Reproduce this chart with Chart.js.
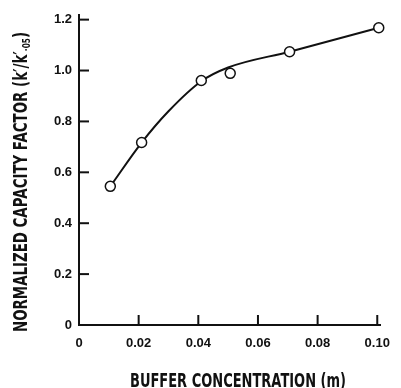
<!DOCTYPE html>
<html>
<head>
<meta charset="utf-8">
<script src="https://cdn.jsdelivr.net/npm/chart.js@4"></script>
<style>
  html, body { margin: 0; padding: 0; background: #fff; }
  #wrap { width: 401px; height: 388px; }
</style>
</head>
<body>
<div id="wrap"><canvas id="myChart"></canvas></div>
<script>
// measured points
const concentration = [0.0105, 0.021, 0.041, 0.0507, 0.0706, 0.1005];
const capacityFactor = [0.545, 0.717, 0.961, 0.989, 1.074, 1.168];

// hand-drawn smooth curve
const curveX = [0.0105, 0.021, 0.030, 0.041, 0.050, 0.0706, 0.1005];
const curveY = [0.545, 0.717, 0.840, 0.958, 1.012, 1.074, 1.168];

const xTicks = [0, 0.02, 0.04, 0.06, 0.08, 0.10];
const xTickLabels = ['0', '0.02', '0.04', '0.06', '0.08', '0.10'];
const yTicks = [0, 0.2, 0.4, 0.6, 0.8, 1.0, 1.2];
const yTickLabels = ['0', '0.2', '0.4', '0.6', '0.8', '1.0', '1.2'];

const xTitle = 'BUFFER CONCENTRATION (m)';
const yTitleMain = "NORMALIZED CAPACITY FACTOR (k\u2032/k\u2032";
const yTitleSub = '\u00b705';
const yTitleEnd = ')';

const INK = '#111';
const tickFont = { family: '"Liberation Sans", Arial, sans-serif', size: 13, weight: 'bold' };
const titleFont = 'bold 20px "DejaVu Sans", sans-serif';
const subFont = 'bold 11px "DejaVu Sans", sans-serif';

// inward tick marks + the condensed axis titles
const paperAxes = {
    id: 'paperAxes',
    afterDraw(chart) {
        const ctx = chart.ctx;
        const { left, bottom } = chart.chartArea;
        const xs = chart.scales.x;
        const ys = chart.scales.y;
        ctx.save();
        ctx.strokeStyle = INK;
        ctx.lineWidth = 2;
        yTicks.forEach(v => {
            if (v === 0) return;
            const py = ys.getPixelForValue(v);
            ctx.beginPath();
            ctx.moveTo(left, py);
            ctx.lineTo(left + 10, py);
            ctx.stroke();
        });
        xTicks.forEach(v => {
            if (v === 0) return;
            const px = xs.getPixelForValue(v);
            ctx.beginPath();
            ctx.moveTo(px, bottom);
            ctx.lineTo(px, bottom - 10);
            ctx.stroke();
        });

        ctx.fillStyle = INK;
        ctx.textBaseline = 'alphabetic';
        ctx.textAlign = 'left';

        // x title
        ctx.font = titleFont;
        const xw = ctx.measureText(xTitle).width;
        ctx.save();
        ctx.translate(130, 387);
        ctx.scale(216 / xw, 1);
        ctx.fillText(xTitle, 0, 0);
        ctx.restore();

        // y title (rotated, with subscript)
        ctx.font = titleFont;
        const mw = ctx.measureText(yTitleMain).width;
        const ew = ctx.measureText(yTitleEnd).width;
        ctx.font = subFont;
        const sw = ctx.measureText(yTitleSub).width;
        const total = mw + sw + ew;
        ctx.save();
        ctx.translate(27, 332);
        ctx.rotate(-Math.PI / 2);
        ctx.scale(300 / total, 1);
        ctx.font = titleFont;
        ctx.fillText(yTitleMain, 0, 0);
        ctx.font = subFont;
        ctx.fillText(yTitleSub, mw, 3);
        ctx.font = titleFont;
        ctx.fillText(yTitleEnd, mw + sw, 0);
        ctx.restore();

        ctx.restore();
    }
};

const ctx = document.getElementById('myChart');
const myChart = new Chart(ctx, {
    type: 'scatter',
    data: {
        datasets: [
            {
                label: 'measured',
                data: concentration.map((x, i) => ({ x, y: capacityFactor[i] })),
                pointRadius: 5,
                pointBackgroundColor: '#fff',
                pointBorderColor: INK,
                pointBorderWidth: 1.5,
                showLine: false,
                clip: false,
                order: 0
            },
            {
                label: 'curve',
                data: curveX.map((x, i) => ({ x, y: curveY[i] })),
                showLine: true,
                borderColor: INK,
                borderWidth: 2,
                pointRadius: 0,
                cubicInterpolationMode: 'monotone',
                clip: false,
                order: 1
            }
        ]
    },
    options: {
        responsive: true,
        maintainAspectRatio: false,
        animation: false,
        events: [],
        layout: { padding: { top: 13, right: 7, left: 0, bottom: 0 } },
        plugins: {
            legend: { display: false },
            tooltip: { enabled: false }
        },
        scales: {
            x: {
                type: 'linear',
                min: 0,
                max: 0.1012,
                afterBuildTicks: s => { s.ticks = xTicks.map(value => ({ value })); },
                afterFit: s => { s.height = 63; },
                grid: { display: false, drawTicks: false },
                border: { display: true, color: INK, width: 2 },
                ticks: {
                    color: INK,
                    font: tickFont,
                    padding: 11,
                    maxRotation: 0,
                    autoSkip: false,
                    callback: (v, i) => xTickLabels[i]
                }
            },
            y: {
                type: 'linear',
                min: 0,
                max: 1.219,
                afterBuildTicks: s => { s.ticks = yTicks.map(value => ({ value })); },
                afterFit: s => { s.width = 79; },
                grid: { display: false, drawTicks: false },
                border: { display: true, color: INK, width: 2 },
                ticks: {
                    color: INK,
                    font: tickFont,
                    padding: 7,
                    autoSkip: false,
                    callback: (v, i) => yTickLabels[i]
                }
            }
        }
    },
    plugins: [paperAxes]
});
</script>
</body>
</html>
